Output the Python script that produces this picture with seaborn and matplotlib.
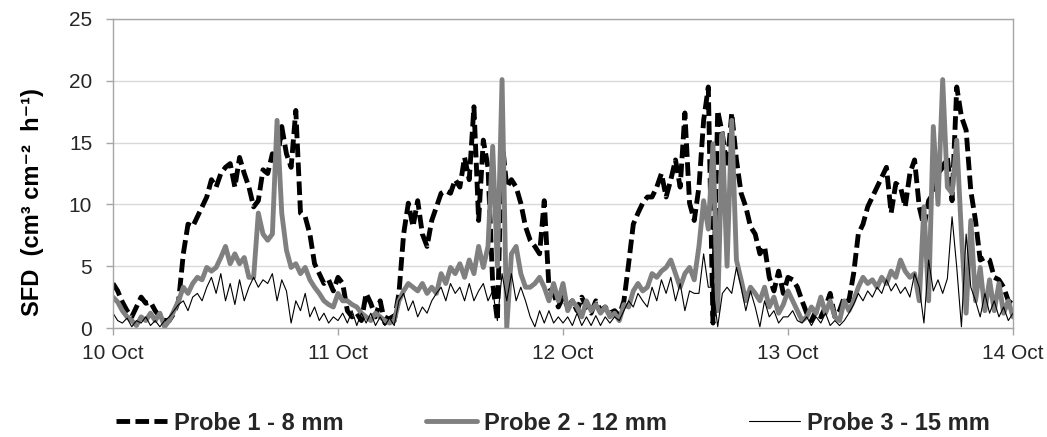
import numpy as np
import matplotlib
matplotlib.use("Agg")
import matplotlib.pyplot as plt
from matplotlib.lines import Line2D
import seaborn as sns

# ---------------- data (30-min readings, 10 Oct 00:00 -> 14 Oct 00:00) ----------------
step_hours = 0.5

probe1 = [
    3.6, 3.0, 2.1, 1.4, 0.9, 1.7, 2.5, 2.0, 2.1, 1.4, 0.9, 0.6, 0.6, 1.2, 2.2, 6.0, 8.4, 8.2, 9.0, 9.8,
    10.6, 12.0, 11.4, 12.5, 13.0, 13.3, 11.4, 13.8, 12.5, 11.4, 9.8, 10.3, 12.8, 12.5, 14.1, 13.3, 16.3, 14.1, 13.0, 17.6,
    9.3, 9.0, 7.6, 5.2, 4.4, 3.6, 3.9, 3.0,
    4.1, 3.6, 1.4, 0.9, 1.2, 0.6, 2.8, 2.0, 0.9, 2.2, 0.4, 1.2, 0.6, 2.8, 7.6, 10.1, 8.2, 10.3, 7.6, 6.6,
    8.7, 9.8, 10.9, 11.1, 10.9, 12.0, 11.4, 13.8, 12.0, 17.9, 8.7, 15.2, 13.0, 3.6, 0.6, 15.2, 11.4, 12.0, 11.4, 10.1,
    8.2, 7.1, 6.6, 6.0, 10.3, 3.3, 2.8, 1.7,
    2.5, 1.7, 2.2, 1.4, 2.5, 1.7, 1.2, 2.2, 1.4, 1.7, 1.2, 1.4, 1.0, 2.2, 5.2, 8.4, 9.3, 10.1, 10.6, 10.6,
    11.4, 12.5, 10.6, 12.0, 13.6, 11.4, 17.4, 10.1, 8.7, 11.4, 16.8, 19.5, 0.4, 17.6, 15.7, 13.0, 17.4, 13.6, 10.9, 9.8,
    8.2, 7.6, 6.0, 6.6, 4.1, 3.0, 4.6, 2.8,
    4.1, 3.9, 3.3, 2.2, 1.2, 0.6, 1.4, 0.9, 1.7, 2.8, 0.9, 1.4, 2.5, 2.2, 4.4, 7.6, 8.4, 9.8, 10.6, 11.4,
    12.2, 13.0, 9.3, 11.7, 11.4, 9.8, 12.5, 13.6, 9.8, 8.2, 10.3, 10.9, 12.5, 13.0, 13.8, 10.3, 19.5, 17.1, 16.0, 11.1,
    8.7, 5.5, 5.7, 5.5, 4.1, 3.9, 3.3, 2.2, 1.9,
]

probe2 = [
    2.5, 2.1, 1.4, 0.9, 0.6, 0.2, 0.9, 0.6, 1.2, 0.6, 1.2, 0.1, 0.6, 1.4, 2.2, 3.3, 2.8, 3.6, 4.1, 3.9,
    4.9, 4.6, 4.9, 5.7, 6.6, 5.2, 6.0, 5.2, 5.7, 4.1, 4.1, 9.3, 7.6, 7.1, 7.6, 16.8, 9.3, 6.3, 4.9, 5.2,
    4.4, 4.9, 3.9, 3.3, 2.8, 2.2, 1.9, 1.7,
    2.8, 2.2, 2.2, 1.9, 1.7, 1.2, 0.9, 0.6, 1.2, 0.9, 0.6, 0.4, 0.6, 2.2, 3.0, 3.6, 3.3, 3.0, 3.6, 2.8,
    3.3, 2.8, 4.4, 3.6, 4.9, 4.4, 5.2, 4.1, 5.5, 4.4, 6.6, 4.9, 6.6, 14.7, 5.0, 20.1, 0.0, 6.0, 6.6, 4.4,
    3.3, 3.3, 3.6, 4.1, 3.3, 2.2, 3.6, 2.2,
    3.6, 1.4, 2.2, 1.7, 0.9, 2.2, 1.4, 1.9, 1.2, 1.7, 0.9, 1.2, 0.6, 1.9, 1.7, 3.0, 3.6, 3.0, 3.3, 4.4,
    4.1, 4.6, 4.9, 5.5, 4.4, 3.3, 4.4, 4.9, 3.9, 6.6, 10.3, 8.0, 14.9, 1.4, 15.7, 5.0, 16.8, 5.5, 3.9, 2.2,
    3.3, 2.8, 2.2, 3.3, 1.7, 2.5, 1.2, 1.9,
    3.0, 2.2, 1.4, 0.6, 0.9, 1.7, 1.2, 2.5, 1.2, 2.2, 0.9, 0.6, 2.2, 1.4, 2.2, 3.3, 4.1, 3.6, 3.9, 3.3,
    4.1, 3.6, 4.6, 4.1, 5.5, 4.6, 4.1, 4.4, 2.2, 9.8, 2.2, 16.3, 10.0, 20.1, 11.4, 10.9, 15.2, 7.6, 1.2, 8.7,
    2.2, 4.9, 1.4, 3.9, 1.4, 3.6, 1.2, 2.2, 0.9,
]

probe3 = [
    1.2, 0.6, 0.4, 0.8, 0.1, 0.6, 0.4, 0.9, 0.2, 0.6, 0.1, 0.6, 0.9, 1.4, 1.9, 2.2, 1.4, 2.5, 2.8, 2.2,
    3.3, 4.1, 2.8, 4.4, 2.2, 3.6, 1.9, 3.9, 2.2, 3.3, 4.1, 3.3, 3.9, 3.6, 4.4, 2.2, 3.9, 3.0, 0.4, 2.2,
    1.4, 2.8, 0.9, 1.7, 0.6, 1.2, 0.4, 0.9,
    0.6, 1.2, 0.4, 1.4, 0.2, 1.2, 0.4, 1.2, 0.2, 0.9, 0.2, 0.8, 0.2, 2.2, 2.8, 1.4, 2.2, 0.9, 1.7, 1.2,
    2.2, 2.8, 3.3, 2.2, 3.6, 2.8, 3.3, 2.2, 3.6, 2.2, 3.0, 3.6, 2.2, 3.0, 0.6, 4.4, 2.2, 4.4, 2.2, 3.3,
    2.2, 0.9, 0.1, 1.4, 0.4, 1.4, 0.4, 0.9,
    0.4, 0.9, 0.2, 1.2, 0.2, 0.9, 0.2, 1.0, 0.2, 0.9, 0.4, 0.9, 0.6, 1.4, 2.2, 1.7, 2.8, 2.2, 1.7, 3.3,
    2.2, 3.9, 2.8, 4.1, 2.2, 3.6, 1.4, 3.0, 2.8, 2.8, 6.0, 3.3, 3.3, 0.1, 2.8, 3.3, 2.8, 4.9, 3.3, 1.4,
    3.0, 1.7, 0.1, 2.2, 0.9, 1.4, 0.4, 0.9,
    0.9, 1.4, 0.6, 0.4, 0.9, 0.2, 0.9, 0.4, 1.2, 0.2, 0.6, 0.2, 0.6, 1.2, 1.9, 2.8, 2.2, 3.0, 2.5, 3.3,
    2.8, 3.9, 3.0, 3.6, 2.8, 3.3, 2.5, 4.4, 3.3, 0.4, 5.5, 3.0, 3.9, 2.8, 4.0, 9.0, 4.9, 0.1, 7.6, 3.3,
    2.2, 0.9, 2.8, 1.2, 2.2, 0.9, 1.7, 0.6, 1.2,
]

series_names = ["Probe 1 - 8 mm", "Probe 2 - 12 mm", "Probe 3 - 15 mm"]
day_labels = ["10 Oct", "11 Oct", "12 Oct", "13 Oct", "14 Oct"]
y_ticks = [0, 5, 10, 15, 20, 25]
y_label = "SFD  (cm\u00b3 cm\u207b\u00b2  h\u207b\u00b9)"

# ---------------- styling ----------------
sns.set_theme(style="white")
plt.rcParams["font.family"] = ["Liberation Sans", "DejaVu Sans"]

W, H = 1047, 437
fig = plt.figure(figsize=(W / 100, H / 100), dpi=100)
ax = fig.add_axes([113 / W, 1 - 328 / H, 900 / W, 309 / H])

t_days = np.arange(len(probe1)) * step_hours / 24.0

styles = [
    dict(color="black", linewidth=3.5, linestyle=(0, (2.8, 1.1))),
    dict(color="#808080", linewidth=3.5, linestyle="-"),
    dict(color="black", linewidth=0.8, linestyle="-"),
]
for vals, st in zip([probe1, probe2, probe3], styles):
    sns.lineplot(x=t_days, y=vals, ax=ax, estimator=None, sort=False,
                 legend=False, **st)

ax.set_xlim(0, len(day_labels) - 1)
ax.set_ylim(0, 25)
ax.set_xticks(range(len(day_labels)))
ax.set_xticklabels(day_labels)
ax.set_yticks(y_ticks)
ax.set_yticklabels([str(v) for v in y_ticks])

ax.grid(axis="y", color="#d9d9d9", linewidth=1.0)
ax.grid(axis="x", visible=False)
ax.set_axisbelow(True)
for s in ax.spines.values():
    s.set_color("#a6a6a6")
    s.set_linewidth(1.0)
    s.set_visible(True)

ax.tick_params(axis="both", which="major", direction="out", color="#a6a6a6",
               length=5, width=1.0, labelsize=15, labelcolor="#262626")
ax.tick_params(axis="y", pad=10, left=True)
ax.tick_params(axis="x", pad=6.5, bottom=True)
ax.set_xlabel("")
ax.set_ylabel("")

fig.text(33 / W, 1 - 202 / H, y_label, rotation=90, ha="center", va="center",
         fontsize=17, fontweight="bold", color="black")

handles = [Line2D([], [], **st) for st in styles]
fig.legend(handles, series_names, loc="center", ncol=3,
           bbox_to_anchor=(553 / W, 1 - 423 / H), frameon=False,
           prop=dict(size=17, weight="bold"), handlelength=2.15,
           handletextpad=0.3, columnspacing=3.5, borderpad=0, borderaxespad=0)

fig.savefig("out.png", dpi=100)
